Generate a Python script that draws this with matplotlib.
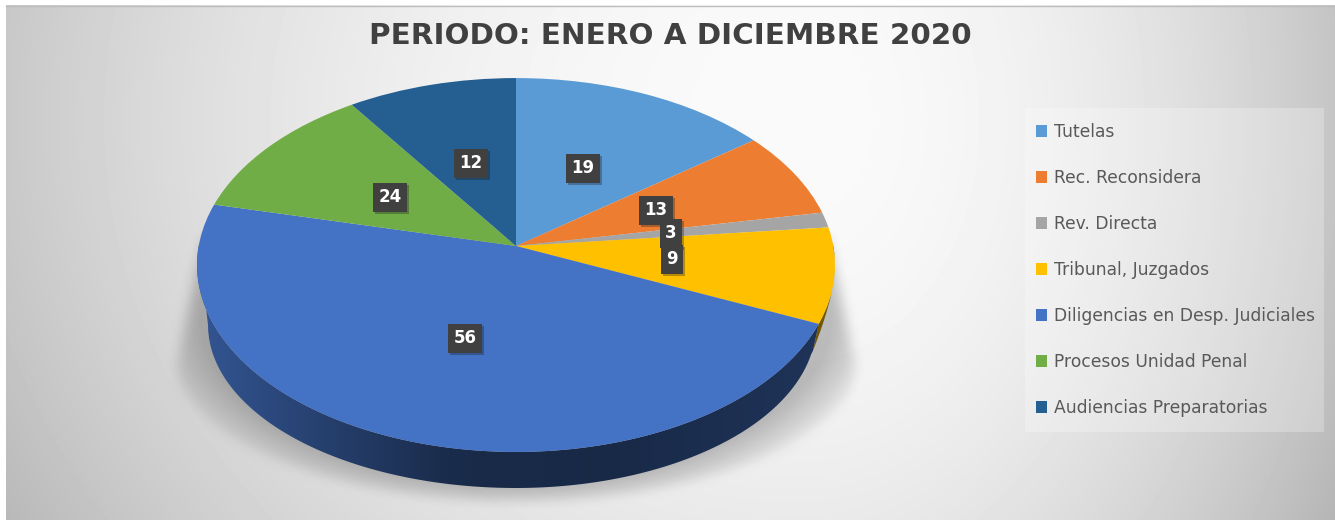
import matplotlib
matplotlib.use("Agg")
import matplotlib.pyplot as plt
import numpy as np
from matplotlib import font_manager as fm
from matplotlib.patches import Patch, Polygon, Rectangle
from matplotlib.patheffects import Normal, SimplePatchShadow
from matplotlib.transforms import Transform

W, H = 1335, 521

title = "PERIODO: ENERO A DICIEMBRE 2020"
categories = [
    "Tutelas",
    "Rec. Reconsidera",
    "Rev. Directa",
    "Tribunal, Juzgados",
    "Diligencias en Desp. Judiciales",
    "Procesos Unidad Penal",
    "Audiencias Preparatorias",
]
# numbers printed on the chart
values = [19, 13, 3, 9, 56, 24, 12]
# the reference does not draw slices in proportion to its labels,
# so these are the sizes (same total)
drawn_sizes = [19.9, 10.1, 1.8, 11.2, 64.0, 16.1, 12.9]
colors = ["#5B9BD5", "#ED7D31", "#A5A5A5", "#FFC000", "#4472C4", "#70AD47", "#255E91"]
label_x = [583, 656, 671, 672, 465, 390, 471]
label_y = [168, 210, 233, 259, 338, 197, 163]


def font(family, weight, size):
    path = fm.findfont(fm.FontProperties(family=family, weight=weight))
    return fm.FontProperties(fname=path, size=size)


class TiltTransform(Transform):
    # unit circle -> tilted disc in pixel coordinates, far side smaller
    input_dims = 2
    output_dims = 2
    is_separable = False
    has_inverse = False

    def transform_non_affine(self, pts):
        pts = np.asarray(pts, dtype=float)
        w = 1 + 0.1016 * pts[:, 1]
        return np.column_stack([516 + 317.3 * pts[:, 0] / w, 246 - 185 * pts[:, 1] / w])


def blur(a, sigma):
    k = np.exp(-0.5 * (np.arange(-3 * sigma, 3 * sigma + 1) / sigma) ** 2)
    k /= k.sum()
    a = np.apply_along_axis(lambda r: np.convolve(r, k, mode="same"), 0, a)
    return np.apply_along_axis(lambda r: np.convolve(r, k, mode="same"), 1, a)


fig = plt.figure(figsize=(W / 100, H / 100), dpi=100, facecolor="white")
ax = fig.add_axes([0, 0, 1, 1])

# grey background glow
xx, yy = np.meshgrid(np.arange(6, W) + 0.5, np.arange(5, 520) + 0.5)
ax_x = np.where(xx < 800, 800.0, 520.0)
r2 = ((xx - 800) / ax_x) ** 2 + ((yy - 120) / 700) ** 2
bg = np.clip(250 - 50 * r2, 0, 255) / 255
ax.imshow(bg, cmap="gray", vmin=0, vmax=1, extent=(6, W, 520, 5), zorder=0, interpolation="bilinear")
ax.plot([6, W], [5.5, 5.5], color="#bdbdbd", lw=1, zorder=0.5)

# soft shadow under the disc
xs, ys = np.meshgrid(np.arange(W) + 0.5, np.arange(H) + 0.5)
half = 319 + (ys - 262) * 21 / 103
trap = (ys > 235) & (ys <= 365) & (np.abs(xs - 516) < half)
ell = (ys > 365) & (((xs - 516) / 340) ** 2 + ((ys - 365) / 138) ** 2 < 1)
mask = blur((trap | ell).astype(float), 6)
# strongest against the disc, fading outwards and to the top of the sides
fall = np.clip(1.14 - np.sqrt(((xs - 516) / 335) ** 2 + ((ys - 318) / 175) ** 2), 0, 1) / 0.2
shade = np.zeros((H, W, 4))
shade[..., 3] = np.clip(mask * np.clip(fall, 0.18, 1), 0, 1) * 0.24
ax.imshow(shade, extent=(0, W, H, 0), zorder=1, interpolation="bilinear")

wedges, _ = ax.pie(drawn_sizes, colors=colors, startangle=90, counterclock=False, wedgeprops={"linewidth": 0})
tilt = TiltTransform()
for wd in wedges:
    wd.set_transform(tilt + ax.transData)
    wd.set_zorder(3)

# rim of the disc, only the front part shows
shade_x = [197, 330, 450, 600, 834]
shade_f = [0.75, 0.55, 0.38, 0.36, 0.46]
col_x = np.arange(W)
col_f = np.interp(col_x, shade_x, shade_f)
for wd, c in zip(wedges, colors):
    th = np.radians(np.linspace(wd.theta1, wd.theta2, 200))
    th = th[np.sin(th) <= 0.02]
    if len(th) < 2:
        continue
    top = tilt.transform(np.column_stack([np.cos(th), np.sin(th)]))
    dx = top[:, 0] - 516
    rx = np.where(dx > 0, 300.0, 308.0)
    low_dx = np.clip(dx * 0.98, -rx, rx)
    low_y = 325 + 163 * np.sqrt(1 - (low_dx / rx) ** 2)
    # thin sliver on the far right, closes onto the disc edge
    k = np.clip((319 - dx) / 17, 0, 1)
    right = dx > 302
    low_x = np.where(right, top[:, 0] - 6 * k, 516 + low_dx)
    low_y = np.where(right, top[:, 1] + 28 * k, low_y)
    low = np.column_stack([low_x, low_y])
    poly = Polygon(np.vstack([top, low[::-1]]), closed=True, transform=ax.transData, fc="none", ec="none")
    ax.add_patch(poly)
    rgb = np.array(matplotlib.colors.to_rgb(c))
    grad = (col_f[:, None] * rgb)[None, :, :]
    im = ax.imshow(grad, extent=(0, W, H, 0), zorder=2, aspect="auto")
    im.set_clip_path(poly)

# value labels
for v, x, y in zip(values, label_x, label_y):
    t = ax.text(x, y, str(v), ha="center", va="center", color="white", zorder=6,
                fontproperties=font("DejaVu Sans", "bold", 12),
                bbox=dict(boxstyle="square,pad=0.33", fc="#404040", ec="none"))
    t.get_bbox_patch().set_path_effects([SimplePatchShadow(offset=(1.5, -1.5), alpha=0.3), Normal()])

ax.text(670.5, 36, title, ha="center", va="center", color="#404040", zorder=6,
        fontproperties=font("DejaVu Sans", "bold", 21.2))

# legend panel
handles = [Patch(facecolor=c, edgecolor="none") for c in colors]
ax.add_patch(Rectangle((1025, 108), 299, 324, fc="white", ec="none", alpha=0.25, zorder=4))
leg = ax.legend(
    handles, categories, loc="upper left", bbox_to_anchor=(1019, 106), bbox_transform=ax.transData,
    frameon=False, borderaxespad=0, borderpad=1.0, labelspacing=1.64,
    handlelength=0.65, handleheight=0.65, handletextpad=0.41, labelcolor="#595959",
    prop=font("DejaVu Sans", "normal", 12.3),
)
leg.set_zorder(6)

ax.set_aspect("auto")
ax.set_xlim(0, W)
ax.set_ylim(H, 0)
ax.set_axis_off()
fig.savefig("out.png", dpi=100)
